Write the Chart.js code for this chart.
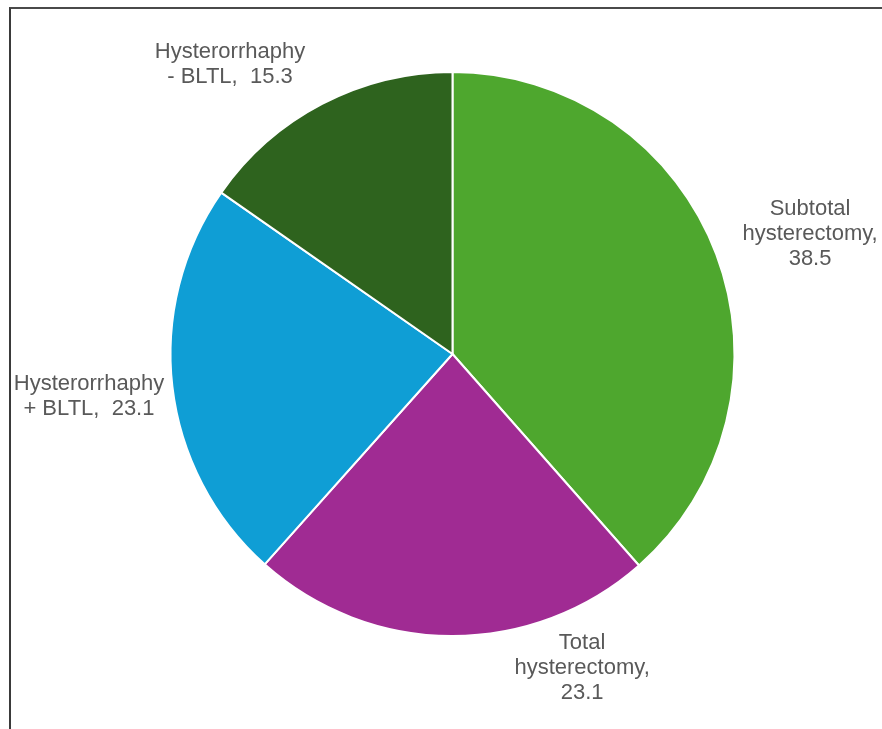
<!DOCTYPE html>
<html>
<head>
<meta charset="utf-8">
<script src="https://cdn.jsdelivr.net/npm/chart.js@4"></script>
<style>
    html, body { margin: 0; padding: 0; background: #fff; overflow: hidden; }
    #wrap { position: relative; width: 882px; height: 729px; }
    #frame {
        position: absolute; left: 9px; top: 7px; width: 900px; height: 800px;
        border-top: 2px solid #4a4a4a; border-left: 2px solid #3a3a3a;
        pointer-events: none;
    }
    canvas { position: absolute; left: 0; top: 0; }
</style>
</head>
<body>
<div id="wrap">
    <canvas id="pieChart" width="882" height="729"></canvas>
    <div id="frame"></div>
</div>
<script>
// chart data
const categories = ['Subtotal hysterectomy', 'Total hysterectomy', 'Hysterorrhaphy + BLTL', 'Hysterorrhaphy - BLTL'];
const values = [38.5, 23.1, 23.1, 15.3];
const labelLines = [
    ['Subtotal', 'hysterectomy,', '38.5'],
    ['Total', 'hysterectomy,', '23.1'],
    ['Hysterorrhaphy', '+ BLTL,  23.1'],
    ['Hysterorrhaphy', '- BLTL,  15.3']
];

const sliceColors = ['#4EA72E', '#A02B93', '#0F9ED5', '#2E631E'];

// label placement relative to each arc: angle nudge (deg) and distance from centre as a factor of radius
const labelPlacement = [
    { nudge: 2.2, dist: 1.337 },
    { nudge: -22.6, dist: 1.205 },
    { nudge: 0, dist: 1.298 },
    { nudge: -10, dist: 1.295 }
];

const outsideLabels = {
    id: 'outsideLabels',
    afterDatasetsDraw(chart) {
        const ctx = chart.ctx;
        const meta = chart.getDatasetMeta(0);
        ctx.save();
        ctx.font = '22px "Liberation Sans", Arial, sans-serif';
        ctx.fillStyle = '#595959';
        ctx.textAlign = 'center';
        ctx.textBaseline = 'middle';
        const lineH = 25;
        meta.data.forEach((arc, i) => {
            const p = arc.getProps(['x', 'y', 'startAngle', 'endAngle', 'outerRadius'], true);
            const mid = (p.startAngle + p.endAngle) / 2 + labelPlacement[i].nudge * Math.PI / 180;
            const r = p.outerRadius * labelPlacement[i].dist;
            const cx = p.x + Math.cos(mid) * r;
            const cy = p.y + Math.sin(mid) * r;
            const lines = labelLines[i];
            const top = cy - (lines.length - 1) * lineH / 2;
            lines.forEach((t, j) => ctx.fillText(t, cx, top + j * lineH));
        });
        ctx.restore();
    }
};

document.addEventListener('DOMContentLoaded', function() {
    initializeChart();
});

function initializeChart() {
    const ctx = document.getElementById('pieChart').getContext('2d');
    const chart = new Chart(ctx, {
        type: 'pie',
        data: {
            labels: categories,
            datasets: [{
                data: values,
                backgroundColor: sliceColors,
                borderColor: '#ffffff',
                borderWidth: 2
            }]
        },
        options: {
            responsive: false,
            animation: false,
            layout: {
                padding: { top: 71, bottom: 92, left: 169, right: 146 }
            },
            plugins: {
                legend: { display: false },
                tooltip: { enabled: false }
            }
        },
        plugins: [outsideLabels]
    });

    window.pieChart = chart;
}
</script>
</body>
</html>
